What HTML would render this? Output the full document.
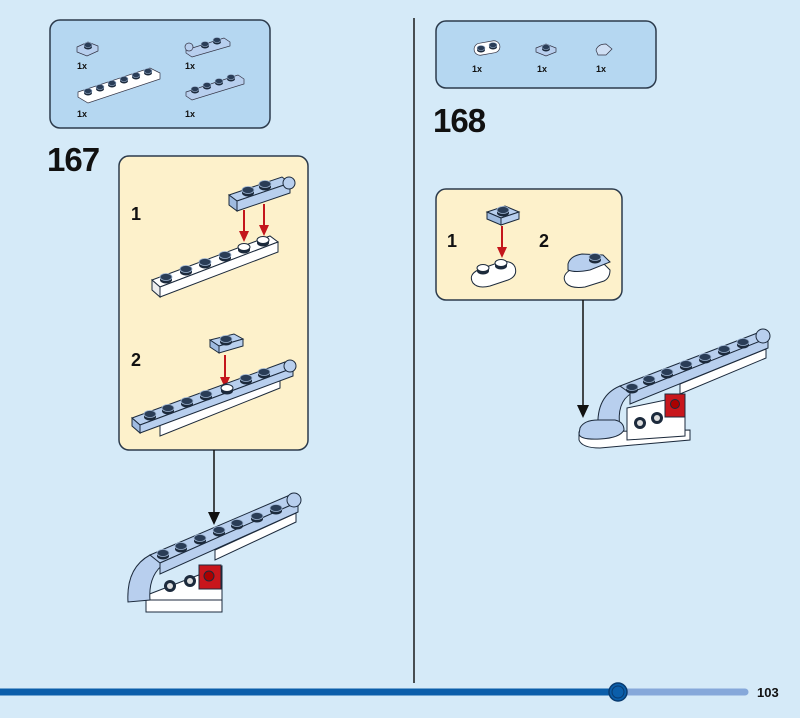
<!DOCTYPE html>
<html><head><meta charset="utf-8"><style>
html,body{margin:0;padding:0;background:#d5eaf8;}
svg{display:block}
text{font-family:"Liberation Sans",sans-serif;fill:#111;font-weight:bold}
</style></head><body>
<svg width="800" height="718" viewBox="0 0 800 718" xmlns="http://www.w3.org/2000/svg">
<defs>
<g id="s"><ellipse cx="0" cy="3" rx="6" ry="3.5" fill="#1c2a3c"/><rect x="-6" y="0" width="12" height="3" fill="#1c2a3c"/><ellipse cx="0" cy="0" rx="6" ry="3.5" fill="#2a3d57" stroke="#9fb6d4" stroke-width="0.8"/></g>
<g id="sw"><ellipse cx="0" cy="3" rx="6" ry="3.5" fill="#1c2a3c"/><rect x="-6" y="0" width="12" height="3" fill="#1c2a3c"/><ellipse cx="0" cy="0" rx="6" ry="3.5" fill="#fff" stroke="#1c2a3c" stroke-width="1"/></g>
<g id="ss"><ellipse cx="0" cy="2" rx="4" ry="2.5" fill="#1c2a3c"/><rect x="-4" y="0" width="8" height="2" fill="#1c2a3c"/><ellipse cx="0" cy="0" rx="4" ry="2.5" fill="#2a3d57" stroke="#9fb6d4" stroke-width="0.6"/></g>
</defs>

<line x1="414" y1="18" x2="414" y2="683" stroke="#1a1a1a" stroke-width="1.5"/>

<rect x="50" y="20" width="220" height="108" rx="10" fill="#b5d7f1" stroke="#2c3b4c" stroke-width="1.5"/>
<polygon points="77,47 88,42 98,46 98,51 87,56 77,52" fill="#b8cfee" stroke="#334" stroke-width="0.7"/>
<use href="#ss" x="88" y="45"/>
<text x="77" y="69" font-size="9">1x</text>
<polygon points="78,92 150,68 160,73 160,79 88,103 78,97" fill="#fff" stroke="#334" stroke-width="0.7"/>
<use href="#ss" x="88" y="91"/><use href="#ss" x="100" y="87"/><use href="#ss" x="112" y="83"/><use href="#ss" x="124" y="79"/><use href="#ss" x="136" y="75"/><use href="#ss" x="148" y="71"/>
<text x="77" y="117" font-size="9">1x</text>
<polygon points="186,50 224,38 230,42 230,46 192,57 186,53" fill="#b8cfee" stroke="#334" stroke-width="0.7"/>
<circle cx="189" cy="47" r="4" fill="#b8cfee" stroke="#334" stroke-width="0.7"/>
<use href="#ss" x="205" y="44"/><use href="#ss" x="217" y="40"/>
<text x="185" y="69" font-size="9">1x</text>
<polygon points="186,92 238,75 244,79 244,84 192,100 186,96" fill="#b8cfee" stroke="#334" stroke-width="0.7"/>
<use href="#ss" x="195" y="89"/><use href="#ss" x="207" y="85"/><use href="#ss" x="219" y="81"/><use href="#ss" x="231" y="77"/>
<text x="185" y="117" font-size="9">1x</text>

<text x="47" y="171" font-size="33" letter-spacing="-1">167</text>

<rect x="119" y="156" width="189" height="294" rx="10" fill="#fdf1cb" stroke="#2c3b4c" stroke-width="1.5"/>
<text x="131" y="220" font-size="18">1</text>
<text x="131" y="366" font-size="18">2</text>
<polygon points="229,195 282,177 290,183 237,201" fill="#b8cfee" stroke="#1c2a3c" stroke-width="1"/>
<polygon points="229,195 237,201 237,211 229,205" fill="#9fbbe0" stroke="#1c2a3c" stroke-width="1"/>
<polygon points="237,201 290,183 290,193 237,211" fill="#b8cfee" stroke="#1c2a3c" stroke-width="1"/>
<circle cx="289" cy="183" r="6" fill="#b8cfee" stroke="#1c2a3c"/>
<use href="#s" x="248" y="190"/><use href="#s" x="265" y="184"/>
<line x1="244" y1="210" x2="244" y2="232" stroke="#c4161c" stroke-width="2"/>
<path d="M239,231 L249,231 L244,242 Z" fill="#c4161c"/>
<line x1="264" y1="204" x2="264" y2="226" stroke="#c4161c" stroke-width="2"/>
<path d="M259,225 L269,225 L264,236 Z" fill="#c4161c"/>
<polygon points="152,280 270,236 278,242 160,287" fill="#fff" stroke="#1c2a3c" stroke-width="1"/>
<polygon points="152,280 160,287 160,297 152,290" fill="#eee" stroke="#1c2a3c" stroke-width="1"/>
<polygon points="160,287 278,242 278,252 160,297" fill="#fff" stroke="#1c2a3c" stroke-width="1"/>
<use href="#s" x="166" y="277"/><use href="#s" x="186" y="269"/><use href="#s" x="205" y="262"/><use href="#s" x="225" y="255"/><use href="#sw" x="244" y="247"/><use href="#sw" x="263" y="240"/>
<polygon points="210,340 234,334 243,339 219,346" fill="#b8cfee" stroke="#1c2a3c"/>
<polygon points="210,340 219,346 219,353 210,347" fill="#9fbbe0" stroke="#1c2a3c"/>
<polygon points="219,346 243,339 243,346 219,353" fill="#b8cfee" stroke="#1c2a3c"/>
<use href="#s" x="226" y="339"/>
<line x1="225" y1="355" x2="225" y2="378" stroke="#c4161c" stroke-width="2"/>
<path d="M220,377 L230,377 L225,388 Z" fill="#c4161c"/>
<polygon points="160,425 280,380 280,388 160,436" fill="#fff" stroke="#1c2a3c"/>
<polygon points="132,418 285,362 293,368 140,425" fill="#b8cfee" stroke="#1c2a3c"/>
<polygon points="132,418 140,425 140,433 132,426" fill="#9fbbe0" stroke="#1c2a3c"/>
<polygon points="140,425 293,368 293,376 140,433" fill="#b8cfee" stroke="#1c2a3c"/>
<circle cx="290" cy="366" r="6" fill="#b8cfee" stroke="#1c2a3c"/>
<use href="#s" x="150" y="414"/><use href="#s" x="168" y="408"/><use href="#s" x="187" y="401"/><use href="#s" x="206" y="394"/><use href="#sw" x="227" y="388"/><use href="#s" x="246" y="378"/><use href="#s" x="264" y="372"/>

<line x1="214" y1="450" x2="214" y2="515" stroke="#111" stroke-width="1.5"/>
<path d="M208,512 L220,512 L214,525 Z" fill="#111"/>

<!-- final 167 -->
<polygon points="215,550 296,513 296,522 215,560" fill="#fff" stroke="#1c2a3c"/>
<polygon points="147,595 222,566 222,610 147,612" fill="#fff" stroke="#1c2a3c"/>
<rect x="146" y="600" width="76" height="12" fill="#fff" stroke="#1c2a3c"/>
<rect x="199" y="565" width="22" height="24" fill="#c8161c" stroke="#1c2a3c"/>
<circle cx="209" cy="576" r="5" fill="#a00" stroke="#1c2a3c"/>
<circle cx="170" cy="586" r="6" fill="#1c2a3c"/><circle cx="170" cy="586" r="3" fill="#ddd"/>
<circle cx="190" cy="581" r="6" fill="#1c2a3c"/><circle cx="190" cy="581" r="3" fill="#ddd"/>
<path d="M128,602 Q126,568 150,555 L165,563 Q148,575 150,600 Z" fill="#b8cfee" stroke="#1c2a3c"/>
<polygon points="150,555 290,495 298,502 160,563" fill="#b8cfee" stroke="#1c2a3c"/>
<polygon points="160,563 298,502 298,512 160,574" fill="#b8cfee" stroke="#1c2a3c"/>
<circle cx="294" cy="500" r="7" fill="#b8cfee" stroke="#1c2a3c"/>
<use href="#s" x="163" y="553"/><use href="#s" x="181" y="546"/><use href="#s" x="200" y="538"/><use href="#s" x="219" y="530"/><use href="#s" x="237" y="523"/><use href="#s" x="257" y="516"/><use href="#s" x="276" y="508"/>

<rect x="436" y="21" width="220" height="67" rx="10" fill="#b5d7f1" stroke="#2c3b4c" stroke-width="1.5"/>
<rect x="474" y="42" width="26" height="12" rx="6" fill="#fff" stroke="#334" stroke-width="0.7" transform="rotate(-10 487 48)"/>
<use href="#ss" x="481" y="48"/><use href="#ss" x="493" y="45"/>
<text x="472" y="72" font-size="9">1x</text>
<polygon points="536,48 546,44 556,48 556,52 546,56 536,52" fill="#b8cfee" stroke="#334" stroke-width="0.7"/>
<use href="#ss" x="546" y="47"/>
<text x="537" y="72" font-size="9">1x</text>
<path d="M596,50 Q598,44 606,44 L612,49 L606,55 L598,55 Z" fill="#cfdff4" stroke="#334" stroke-width="0.7"/>
<text x="596" y="72" font-size="9">1x</text>

<text x="433" y="132" font-size="33" letter-spacing="-1">168</text>

<rect x="436" y="189" width="186" height="111" rx="10" fill="#fdf1cb" stroke="#2c3b4c" stroke-width="1.5"/>
<text x="447" y="247" font-size="18">1</text>
<text x="539" y="247" font-size="18">2</text>
<polygon points="487,212 505,206 519,212 501,218" fill="#b8cfee" stroke="#1c2a3c"/>
<polygon points="487,212 501,218 501,225 487,219" fill="#9fbbe0" stroke="#1c2a3c"/>
<polygon points="501,218 519,212 519,219 501,225" fill="#b8cfee" stroke="#1c2a3c"/>
<use href="#s" x="503" y="210"/>
<line x1="502" y1="226" x2="502" y2="248" stroke="#c4161c" stroke-width="2"/>
<path d="M497,247 L507,247 L502,258 Z" fill="#c4161c"/>
<path d="M478,270 Q468,275 473,283 Q478,289 490,286 L508,280 Q518,276 515,267 Q512,260 500,262 Z" fill="#fff" stroke="#1c2a3c"/>
<use href="#sw" x="483" y="268"/><use href="#sw" x="501" y="263"/>
<path d="M570,270 Q561,276 566,283 Q571,289 585,287 L604,281 Q610,278 610,270 L602,262 Z" fill="#fff" stroke="#1c2a3c"/>
<path d="M568,264 Q570,256 582,254 L603,255 L610,262 L590,270 Q575,273 568,270 Z" fill="#b8cfee" stroke="#1c2a3c"/>
<use href="#s" x="595" y="257"/>

<line x1="583" y1="300" x2="583" y2="408" stroke="#111" stroke-width="1.5"/>
<path d="M577,405 L589,405 L583,418 Z" fill="#111"/>

<!-- final 168 -->
<polygon points="680,384 766,349 766,358 680,394" fill="#fff" stroke="#1c2a3c"/>
<path d="M579,432 L579,440 Q582,448 600,448 L690,440 L690,430 Z" fill="#fff" stroke="#1c2a3c"/>
<polygon points="627,408 685,396 685,436 627,440" fill="#fff" stroke="#1c2a3c"/>
<rect x="665" y="394" width="20" height="23" fill="#c8161c" stroke="#1c2a3c"/>
<circle cx="675" cy="404" r="4.5" fill="#a00" stroke="#1c2a3c"/>
<circle cx="640" cy="423" r="6" fill="#1c2a3c"/><circle cx="640" cy="423" r="3" fill="#ddd"/>
<circle cx="657" cy="418" r="6" fill="#1c2a3c"/><circle cx="657" cy="418" r="3" fill="#ddd"/>
<path d="M598,428 Q596,396 620,386 L632,393 Q616,402 620,428 Z" fill="#b8cfee" stroke="#1c2a3c"/>
<path d="M580,428 Q584,420 598,420 L615,420 Q624,422 624,430 Q620,438 600,439 Q580,440 579,434 Z" fill="#b8cfee" stroke="#1c2a3c"/>
<polygon points="620,386 760,332 768,338 630,393" fill="#b8cfee" stroke="#1c2a3c"/>
<polygon points="630,393 768,338 768,348 630,404" fill="#b8cfee" stroke="#1c2a3c"/>
<circle cx="763" cy="336" r="7" fill="#b8cfee" stroke="#1c2a3c"/>
<use href="#s" x="632" y="387"/><use href="#s" x="649" y="379"/><use href="#s" x="667" y="372"/><use href="#s" x="686" y="364"/><use href="#s" x="705" y="357"/><use href="#s" x="724" y="349"/><use href="#s" x="743" y="342"/>

<line x1="618" y1="692" x2="745" y2="692" stroke="#86a8da" stroke-width="7" stroke-linecap="round"/>
<line x1="0" y1="692" x2="618" y2="692" stroke="#0b5eaa" stroke-width="7"/>
<circle cx="618" cy="692" r="9" fill="#0b5eaa" stroke="#083b70" stroke-width="1.5"/>
<circle cx="618" cy="692" r="6" fill="#0b5eaa" stroke="#083b70" stroke-width="1"/>
<text x="757" y="697" font-size="13">103</text>
</svg>
</body></html>
